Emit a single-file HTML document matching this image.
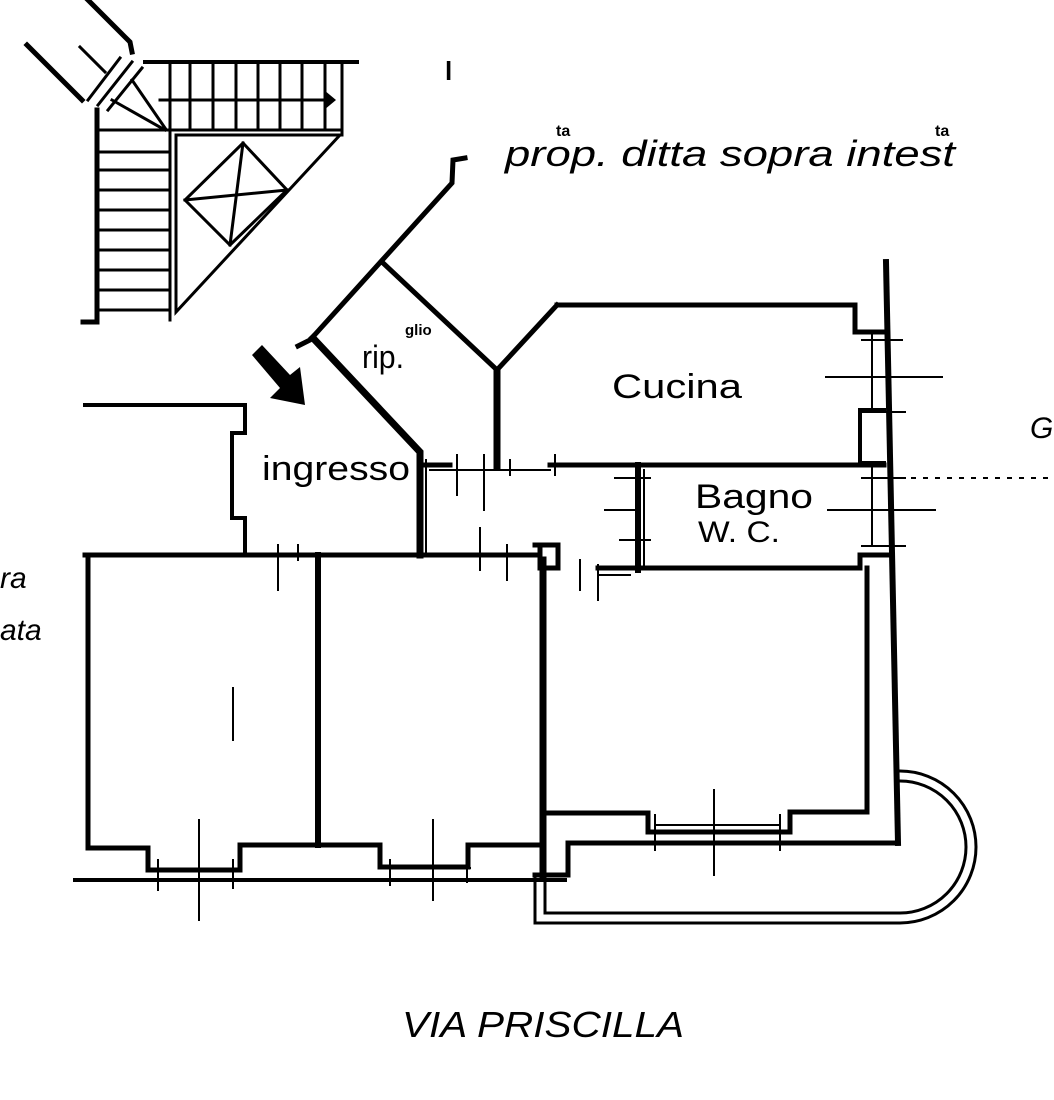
<!DOCTYPE html>
<html><head><meta charset="utf-8"><style>
html,body{margin:0;padding:0;background:#fff}
svg{display:block}
text{font-family:"Liberation Sans",sans-serif;fill:#000}
</style></head><body>
<svg width="1054" height="1100" viewBox="0 0 1054 1100" xmlns="http://www.w3.org/2000/svg">
<g fill="none" stroke="#000" stroke-linecap="square">
<!-- staircase -->
<g stroke-width="3">
<path d="M27 45 L82 100" stroke-width="5"/>
<path d="M80 47 L105 72"/>
<path d="M88 0 L130 42 L132 52" stroke-width="5"/>
<path d="M120 58 L88 100 M132 62 L98 105 M142 68 L108 110"/>
<path d="M145 62 L357 62" stroke-width="4"/>
<path d="M97 110 L97 322 L83 322" stroke-width="5"/>
<path d="M97 130 L342 130"/>
<path d="M170 62V130 M190 62V130 M213 62V130 M236 62V130 M258 62V130 M280 62V130 M302 62V130 M325 62V130 M342 62V135"/>
<path d="M160 100 L325 100"/>
<path d="M100 152H168 M100 170H168 M100 190H168 M100 210H168 M100 230H168 M100 250H168 M100 270H168 M100 290H168 M100 310H168"/>
<path d="M170 130 L170 320 M176 135 L176 312 L340 135 L176 135"/>
<path d="M165 130 L112 100 M165 128 L132 80"/>
<path d="M243 143 L287 190 L230 245 L185 200 Z"/>
<path d="M243 143 L230 245 M185 200 L287 190"/>
</g>
<!-- ingresso left wall -->
<path d="M85 405 L245 405 L245 433 L232 433 L232 518 L245 518 L245 555" stroke-width="4"/>
<!-- rip diagonals -->
<path d="M465 158 L453 160 L452 183 L310 340 L298 346" stroke-width="5"/>
<path d="M383 263 L497 370 L557 305" stroke-width="5"/>
<path d="M497 370 L497 467" stroke-width="7"/>
<path d="M313 338 L420 452 L420 555" stroke-width="7"/>
<path d="M426 460 L426 552" stroke-width="2"/>
<!-- cucina -->
<path d="M557 305 L855 305 L855 332 L884 332" stroke-width="5"/>
<path d="M884 410 L860 410 L860 463 L884 463" stroke-width="4"/>
<path d="M886 262 L898 843" stroke-width="6"/>
<path d="M872 332 L872 410 M872 463 L872 545" stroke-width="2"/>
<path d="M862 340H902 M826 377H942 M862 412H905 M862 478H905 M828 510H935 M862 546H905" stroke-width="2"/>
<!-- corridor / bagno walls -->
<path d="M420 465 L450 465 M550 465 L884 465" stroke-width="5"/>
<path d="M430 470 L550 470" stroke-width="2"/>
<path d="M638 465 L638 570" stroke-width="6"/>
<path d="M644 470 L644 565" stroke-width="2"/>
<path d="M615 478H650 M605 510H640 M620 540H650" stroke-width="2"/>
<path d="M598 568 L860 568 L860 555 L890 555" stroke-width="5"/>
<path d="M598 575 L630 575" stroke-width="2"/>
<!-- door ticks -->
<path d="M457 455V495 M484 455V510 M510 460V475 M555 455V475" stroke-width="2"/>
<!-- main bottom line of corridor -->
<path d="M85 555 L535 555" stroke-width="5"/>
<path d="M535 545 L558 545 L558 568 L540 568 L540 545" stroke-width="5"/>
<path d="M278 545V590 M298 545V560 M480 528V570 M507 545V580 M580 560V590 M598 565V600" stroke-width="2"/>
<!-- bottom rooms -->
<path d="M88 557 L88 848 L148 848 L148 870 L240 870 L240 845 L380 845 L380 867 L468 867 L468 845 L540 845" stroke-width="5"/>
<path d="M318 555 L318 845" stroke-width="6"/>
<path d="M543 560 L543 875" stroke-width="7"/>
<path d="M75 880 L565 880" stroke-width="4"/>
<path d="M155 870 L240 870 M390 868 L470 868" stroke-width="2"/>
<path d="M158 860V890 M199 820V920 M233 860V888 M390 860V885 M433 820V900 M467 860V882" stroke-width="2"/>
<path d="M233 688V740" stroke-width="2"/>
<path d="M543 813 L648 813 L648 832 L790 832 L790 812 L867 812 L867 568" stroke-width="5"/>
<path d="M898 843 L568 843 L568 875 L535 875" stroke-width="5"/>
<path d="M655 825 L780 825" stroke-width="2"/>
<path d="M655 815V850 M714 790V875 M780 815V850" stroke-width="2"/>
<!-- balcony -->
<path d="M535 875 L535 923 L900 923 A76 76 0 0 0 900 771" stroke-width="3"/>
<path d="M545 880 L545 913 L900 913 A66 66 0 0 0 900 781" stroke-width="3"/>
<!-- dotted line -->
<path d="M900 478 L1054 478" stroke-width="2" stroke-dasharray="3 9"/>
</g>
<polygon points="324,90 336,100 324,110" fill="#000"/>
<!-- entrance arrow -->
<polygon points="252,355 262,345 290,375 300,367 305,405 270,398 280,388" fill="#000"/>
<!-- labels -->
<text x="505" y="166" font-size="36" font-style="italic" textLength="450" lengthAdjust="spacingAndGlyphs">prop.    ditta sopra intest</text>
<text x="556" y="136" font-size="16" font-weight="bold">ta</text>
<text x="935" y="136" font-size="16" font-weight="bold">ta</text>
<text x="262" y="480" font-size="34" textLength="148" lengthAdjust="spacingAndGlyphs">ingresso</text>
<text x="362" y="368" font-size="32" textLength="42" lengthAdjust="spacingAndGlyphs">rip.</text>
<text x="405" y="335" font-size="15" font-weight="bold">glio</text>
<text x="612" y="398" font-size="34" textLength="130" lengthAdjust="spacingAndGlyphs">Cucina</text>
<text x="695" y="508" font-size="34" textLength="118" lengthAdjust="spacingAndGlyphs">Bagno</text>
<text x="698" y="542" font-size="30" textLength="82" lengthAdjust="spacingAndGlyphs">W. C.</text>
<text x="0" y="588" font-size="30" font-style="italic">ra</text>
<text x="0" y="640" font-size="30" font-style="italic">ata</text>
<text x="1030" y="438" font-size="30" font-style="italic">G</text>
<text x="445" y="80" font-size="26" font-weight="bold">l</text>
<text x="402" y="1037" font-size="36" font-style="italic" textLength="282" lengthAdjust="spacingAndGlyphs">VIA  PRISCILLA</text>
</svg>
</body></html>
